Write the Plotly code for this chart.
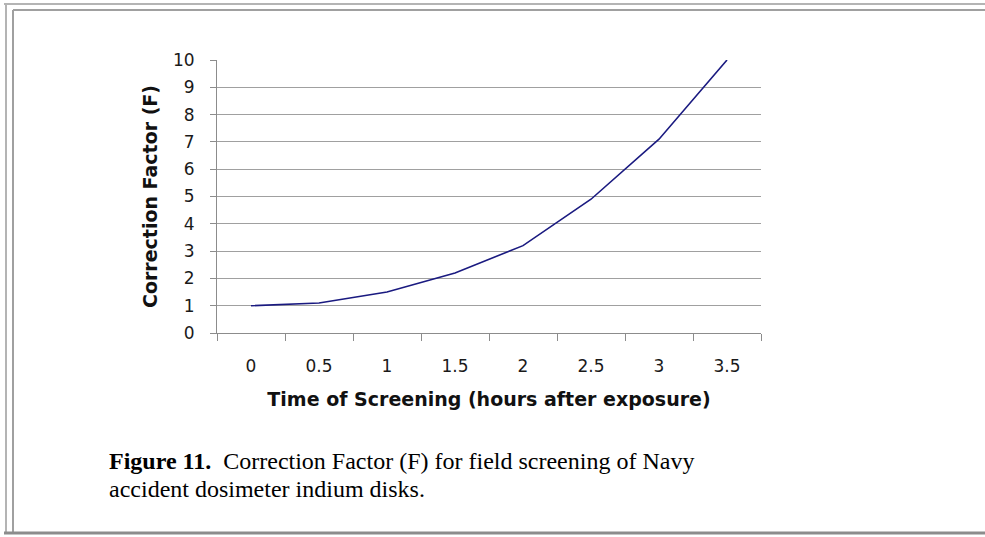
import plotly.graph_objects as go

# ---- data ----
time_labels = ["0", "0.5", "1", "1.5", "2", "2.5", "3", "3.5"]
correction_factor = [1.0, 1.1, 1.5, 2.2, 3.2, 4.9, 7.1, 10.0]
y_ticks = list(range(0, 11))

x_title = "Time of Screening (hours after exposure)"
y_title = "Correction Factor (F)"
caption_bold = "Figure 11."
caption_line1 = "Correction Factor (F) for field screening of Navy"
caption_line2 = "accident dosimeter indium disks."

W, H = 985, 537
ML, MR, MT, MB = 217, 224, 60, 204
PW, PH = W - ML - MR, H - MT - MB


def px(x):
    return (x - ML) / PW


def py(y):
    return (H - MB - y) / PH


fig = go.Figure()
fig.add_trace(go.Scatter(
    x=time_labels, y=correction_factor, mode="lines",
    line=dict(color="#1a1a80", width=1.6),
    showlegend=False, hoverinfo="x+y",
))

axis_font = dict(family="DejaVu Sans, Arial, sans-serif", size=17, color="#1a1a1a")
title_font = dict(family="DejaVu Sans, Arial, sans-serif", size=19, color="#111111", weight="bold")

fig.update_xaxes(
    type="category", range=[-0.5, len(time_labels) - 0.5],
    showline=True, linecolor="#8c8c8c", linewidth=1,
    ticks="outside", tickson="boundaries", ticklen=7, tickcolor="#8c8c8c",
    showgrid=False, zeroline=False,
    tickfont=axis_font, ticklabelstandoff=18,
    title=dict(text=x_title, font=title_font, standoff=17),
)
fig.update_yaxes(
    range=[0, 10], tickvals=y_ticks,
    showline=True, linecolor="#8c8c8c", linewidth=1,
    ticks="outside", ticklen=6, tickcolor="#8c8c8c",
    showgrid=True, gridcolor="#a0a0a0", gridwidth=1.2, zeroline=False,
    tickfont=axis_font, ticklabelstandoff=12,
    title=dict(text=y_title, font=title_font, standoff=10),
)

shapes = []
# outer frame lines (top, left, bottom)
for (x0, y0, x1, y1, c, w) in [
    (4, 4, W + 5, 4, "#b4b4b4", 2),
    (13, 10, W + 5, 10, "#a0a0a0", 2),
    (6, 4, 6, 534, "#b4b4b4", 2),
    (13, 10, 13, 534, "#a0a0a0", 2),
    (4, 533, W + 5, 533, "#8c8c8c", 3),
]:
    shapes.append(dict(type="line", xref="paper", yref="paper",
                       x0=px(x0), y0=py(y0), x1=px(x1), y1=py(y1),
                       line=dict(color=c, width=w)))

caption_font = dict(family="Liberation Serif, Times New Roman, serif", size=24, color="#000000")
annotations = [
    dict(xref="paper", yref="paper", x=px(107), y=py(461), xanchor="left", yanchor="middle",
         text="<b>" + caption_bold + "</b>\u00a0\u00a0" + caption_line1,
         showarrow=False, font=caption_font),
    dict(xref="paper", yref="paper", x=px(107), y=py(489), xanchor="left", yanchor="middle",
         text=caption_line2, showarrow=False, font=caption_font),
]

fig.update_layout(
    width=W, height=H,
    margin=dict(l=ML, r=MR, t=MT, b=MB),
    paper_bgcolor="white", plot_bgcolor="white",
    shapes=shapes, annotations=annotations,
    showlegend=False,
)

fig.write_html(
    "out.html",
    config={"displayModeBar": False},
    post_script="document.body.style.margin='0px';document.body.style.overflow='hidden';",
)
